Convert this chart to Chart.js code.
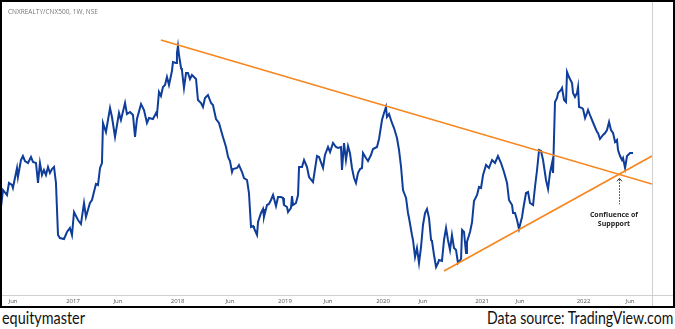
<!DOCTYPE html>
<html>
<head>
<meta charset="utf-8">
<script src="https://cdn.jsdelivr.net/npm/chart.js@4.4.0/dist/chart.umd.min.js"></script>
<style>
  body { margin: 0; width: 675px; height: 329px; background: #fff; overflow: hidden; position: relative; font-family: Lato, sans-serif; }
  #box { position: absolute; left: 0; top: 0; width: 675px; height: 308px; border: 2px solid #000; box-sizing: border-box; }
  #wrap { position: relative; width: 100%; height: 100%; }
  #title { position: absolute; left: 6px; top: 5px; font: 6.5px "Open Sans", sans-serif; color: #777; white-space: nowrap; }
  #note { position: absolute; left: 584px; top: 208px; width: 56px; text-align: center; font: bold 7px "Open Sans", sans-serif; line-height: 9px; color: #222; }
  .foot { position: absolute; top: 307px; font-size: 17px; color: #111; white-space: nowrap; }
  #brand { left: 2px; transform-origin: left top; }
  #source { right: 2px; transform-origin: right top; }
</style>
</head>
<body>
<div id="box">
  <div id="wrap"><canvas id="chart"></canvas></div>
  <div id="title">CNXREALTY/CNX500, 1W, NSE</div>
  <div id="note">Confluence of<br>Suppport</div>
</div>
<div class="foot" id="brand">equitymaster</div>
<div class="foot" id="source">Data source: TradingView.com</div>

<script>
// weekly close dates (fractional years)
const weekYears = [
  2016.294, 2016.314, 2016.353, 2016.372, 2016.402, 2016.411, 2016.431, 2016.451, 2016.460, 2016.490,
  2016.509, 2016.529, 2016.559, 2016.588, 2016.608, 2016.637, 2016.657, 2016.676, 2016.696, 2016.715,
  2016.735, 2016.755, 2016.774, 2016.794, 2016.814, 2016.833, 2016.853, 2016.872, 2016.912, 2016.941,
  2016.970, 2016.990, 2017.010, 2017.049, 2017.078, 2017.108, 2017.127, 2017.166, 2017.186, 2017.225,
  2017.245, 2017.265, 2017.284, 2017.294, 2017.323, 2017.363, 2017.382, 2017.412, 2017.451, 2017.470,
  2017.510, 2017.529, 2017.559, 2017.588, 2017.608, 2017.627, 2017.667, 2017.696, 2017.725, 2017.745,
  2017.784, 2017.814, 2017.823, 2017.843, 2017.862, 2017.882, 2017.902, 2017.921, 2017.941, 2017.970,
  2017.980, 2018.010, 2018.019, 2018.029, 2018.039, 2018.059, 2018.068, 2018.088, 2018.108, 2018.127,
  2018.147, 2018.166, 2018.186, 2018.206, 2018.225, 2018.255, 2018.274, 2018.294, 2018.323, 2018.353,
  2018.372, 2018.402, 2018.431, 2018.470, 2018.500, 2018.520, 2018.539, 2018.559, 2018.569, 2018.608,
  2018.627, 2018.657, 2018.676, 2018.706, 2018.725, 2018.745, 2018.765, 2018.774, 2018.804, 2018.814,
  2018.843, 2018.863, 2018.872, 2018.902, 2018.921, 2018.941, 2018.961, 2018.990, 2019.010, 2019.039,
  2019.059, 2019.068, 2019.098, 2019.108, 2019.137, 2019.147, 2019.157, 2019.186, 2019.206, 2019.216,
  2019.245, 2019.265, 2019.294, 2019.314, 2019.353, 2019.392, 2019.412, 2019.451, 2019.470, 2019.500,
  2019.520, 2019.549, 2019.578, 2019.598, 2019.627, 2019.637, 2019.657, 2019.676, 2019.696, 2019.715,
  2019.735, 2019.755, 2019.774, 2019.794, 2019.814, 2019.833, 2019.843, 2019.872, 2019.892, 2019.921,
  2019.941, 2019.980, 2020.000, 2020.029, 2020.049, 2020.068, 2020.078, 2020.098, 2020.127, 2020.147,
  2020.176, 2020.196, 2020.216, 2020.235, 2020.265, 2020.284, 2020.294, 2020.323, 2020.333, 2020.353,
  2020.372, 2020.392, 2020.412, 2020.431, 2020.451, 2020.470, 2020.490, 2020.510, 2020.519, 2020.539,
  2020.559, 2020.578, 2020.588, 2020.617, 2020.637, 2020.657, 2020.676, 2020.696, 2020.715, 2020.735,
  2020.755, 2020.774, 2020.804, 2020.814, 2020.833, 2020.853, 2020.862, 2020.892, 2020.912, 2020.931,
  2020.961, 2020.980, 2021.000, 2021.020, 2021.049, 2021.078, 2021.108, 2021.137, 2021.166, 2021.196,
  2021.225, 2021.255, 2021.274, 2021.304, 2021.314, 2021.333, 2021.353, 2021.372, 2021.402, 2021.412,
  2021.441, 2021.461, 2021.480, 2021.510, 2021.529, 2021.549, 2021.569, 2021.588, 2021.608, 2021.618,
  2021.637, 2021.657, 2021.676, 2021.696, 2021.706, 2021.725, 2021.745, 2021.755, 2021.784, 2021.794,
  2021.814, 2021.833, 2021.843, 2021.862, 2021.892, 2021.902, 2021.921, 2021.941, 2021.951, 2021.961,
  2021.990, 2022.000, 2022.020, 2022.039, 2022.049, 2022.068, 2022.088, 2022.108, 2022.137, 2022.147,
  2022.166, 2022.196, 2022.216, 2022.235, 2022.255, 2022.274, 2022.294, 2022.314, 2022.333, 2022.343,
  2022.363, 2022.382, 2022.392, 2022.412, 2022.431, 2022.461, 2022.490
];

// CNXREALTY/CNX500 ratio (arbitrary units, no price scale shown)
const ratio = [
  0.88, 1.05, 1.00, 1.12, 1.10, 1.07, 1.17, 1.27, 1.18, 1.35,
  1.39, 1.34, 1.32, 1.38, 1.33, 1.32, 1.12, 1.32, 1.20, 1.25,
  1.20, 1.28, 1.22, 1.26, 1.28, 1.12, 0.60, 0.57, 0.56, 0.63,
  0.67, 0.60, 0.83, 0.75, 0.71, 0.92, 0.78, 0.92, 0.95, 1.11,
  1.10, 1.27, 1.32, 1.72, 1.63, 1.87, 1.78, 1.58, 1.82, 1.75,
  1.92, 1.81, 1.83, 1.80, 1.58, 1.76, 1.91, 1.85, 1.72, 1.77,
  1.76, 1.82, 1.80, 2.03, 1.99, 2.08, 2.10, 2.18, 2.10, 2.24,
  2.33, 2.32, 2.42, 2.49, 2.40, 2.27, 2.25, 2.07, 2.22, 2.22,
  2.16, 2.20, 2.18, 2.16, 1.95, 1.92, 1.88, 1.97, 2.00, 1.92,
  1.90, 1.76, 1.72, 1.58, 1.48, 1.38, 1.34, 1.23, 1.26, 1.27,
  1.30, 1.23, 1.17, 1.15, 1.02, 0.68, 0.69, 0.67, 0.60, 0.73,
  0.82, 0.86, 0.78, 0.90, 0.91, 0.95, 1.00, 0.89, 0.98, 0.98,
  0.97, 0.90, 0.88, 0.83, 0.87, 0.99, 0.90, 0.92, 1.00, 1.28,
  1.28, 1.35, 1.28, 1.18, 1.13, 1.39, 1.38, 1.27, 1.40, 1.48,
  1.43, 1.52, 1.48, 1.47, 1.48, 1.25, 1.52, 1.35, 1.49, 1.42,
  1.27, 1.17, 1.12, 1.22, 1.26, 1.27, 1.42, 1.37, 1.34, 1.40,
  1.46, 1.48, 1.56, 1.75, 1.82, 1.88, 1.78, 1.81, 1.72, 1.67,
  1.57, 1.45, 1.28, 1.05, 0.97, 0.82, 0.77, 0.60, 0.55, 0.38,
  0.47, 0.32, 0.48, 0.70, 0.82, 0.86, 0.77, 0.55, 0.54, 0.40,
  0.28, 0.32, 0.35, 0.34, 0.55, 0.67, 0.55, 0.45, 0.60, 0.47,
  0.45, 0.32, 0.36, 0.65, 0.63, 0.42, 0.53, 0.63, 0.73, 0.94,
  1.00, 1.08, 1.07, 1.20, 1.30, 1.27, 1.35, 1.32, 1.39, 1.32,
  1.23, 1.12, 0.95, 0.90, 0.82, 0.82, 0.75, 0.66, 0.78, 0.85,
  1.02, 1.03, 0.92, 0.90, 1.08, 1.25, 1.45, 1.44, 1.35, 1.28,
  1.15, 1.06, 1.22, 1.32, 1.22, 1.93, 1.97, 2.02, 2.05, 2.07,
  1.95, 1.93, 2.23, 2.18, 2.12, 2.02, 1.98, 2.02, 2.08, 1.88,
  1.87, 1.86, 1.77, 1.82, 1.85, 1.80, 1.75, 1.70, 1.63, 1.62,
  1.56, 1.60, 1.62, 1.65, 1.73, 1.65, 1.62, 1.53, 1.55, 1.45,
  1.39, 1.35, 1.37, 1.27, 1.39, 1.42, 1.42
];

// trend lines drawn on the chart: [start, end]
const resistanceYears = [2017.862, 2022.676];
const resistanceValues = [2.55, 1.11];
const supportYears = [2020.637, 2022.676];
const supportValues = [0.24, 1.39];

// x axis labels
const tickYears = [2016.412, 2017.0, 2017.441, 2018.025, 2018.539, 2019.078, 2019.5,
                   2020.039, 2020.431, 2021.01, 2021.382, 2022.005, 2022.461];
const tickLabels = ['Jun', '2017', 'Jun', '2018', 'Jun', '2019', 'Jun',
                    '2020', 'Jun', '2021', 'Jun', '2022', 'Jun'];

const toPoints = (xs, ys) => xs.map((x, i) => ({ x: x, y: ys[i] }));

// where the two trend lines meet
function crossing() {
  const m1 = (resistanceValues[1] - resistanceValues[0]) / (resistanceYears[1] - resistanceYears[0]);
  const m2 = (supportValues[1] - supportValues[0]) / (supportYears[1] - supportYears[0]);
  const b1 = resistanceValues[0] - m1 * resistanceYears[0];
  const b2 = supportValues[0] - m2 * supportYears[0];
  const x = (b2 - b1) / (m1 - m2);
  return { x: x, y: m1 * x + b1 };
}

// gray frame lines + dotted arrow to the confluence point
const frame = {
  id: 'frame',
  afterDraw(chart) {
    const c = chart.ctx, a = chart.chartArea;
    c.save();
    c.strokeStyle = '#cfcfcf';
    c.lineWidth = 1;
    c.beginPath();
    c.moveTo(0, Math.round(a.bottom) + 0.5);
    c.lineTo(chart.width, Math.round(a.bottom) + 0.5);
    c.moveTo(Math.round(a.right) + 0.5, 0);
    c.lineTo(Math.round(a.right) + 0.5, chart.height);
    c.stroke();

    const p = crossing();
    const px = Math.round(chart.scales.x.getPixelForValue(p.x)) + 0.5;
    const py = chart.scales.y.getPixelForValue(p.y) + 4;
    c.strokeStyle = '#333';
    c.setLineDash([1.5, 1.5]);
    c.beginPath();
    c.moveTo(px, py + 1);
    c.lineTo(px, py + 26);
    c.stroke();
    c.setLineDash([]);
    c.beginPath();
    c.moveTo(px - 2.5, py + 3);
    c.lineTo(px, py);
    c.lineTo(px + 2.5, py + 3);
    c.stroke();
    c.restore();
  }
};

new Chart(document.getElementById('chart'), {
  type: 'line',
  data: {
    datasets: [
      { label: 'CNXREALTY/CNX500', data: toPoints(weekYears, ratio), borderColor: '#0f3d9a',
        borderWidth: 2, pointRadius: 0, tension: 0, order: 2 },
      { label: 'Resistance', data: toPoints(resistanceYears, resistanceValues), borderColor: '#f7861e',
        borderWidth: 1.6, pointRadius: 0, order: 1 },
      { label: 'Support', data: toPoints(supportYears, supportValues), borderColor: '#f7861e',
        borderWidth: 1.6, pointRadius: 0, order: 1 }
    ]
  },
  options: {
    animation: false,
    responsive: true,
    maintainAspectRatio: false,
    layout: { padding: { left: 0, right: 21, top: 0, bottom: 0 } },
    plugins: { legend: { display: false }, tooltip: { enabled: false } },
    scales: {
      x: {
        type: 'linear', min: 2016.304, max: 2022.676,
        grid: { display: false, drawTicks: false },
        border: { display: false },
        afterBuildTicks: s => { s.ticks = tickYears.map(v => ({ value: v })); },
        afterFit: s => { s.height = 11; },
        ticks: {
          autoSkip: false, maxRotation: 0, padding: 3, color: '#555',
          font: { size: 6, family: 'Open Sans' },
          callback: (v, i) => tickLabels[i]
        }
      },
      y: { display: false, min: 0, max: 2.93 }
    }
  },
  plugins: [frame]
});

// squeeze footer texts to the reference widths
function fit(id, w) {
  const el = document.getElementById(id);
  el.style.transform = 'scaleX(' + (w / el.offsetWidth) + ')';
}
fit('brand', 83);
fit('source', 186);
</script>
</body>
</html>
